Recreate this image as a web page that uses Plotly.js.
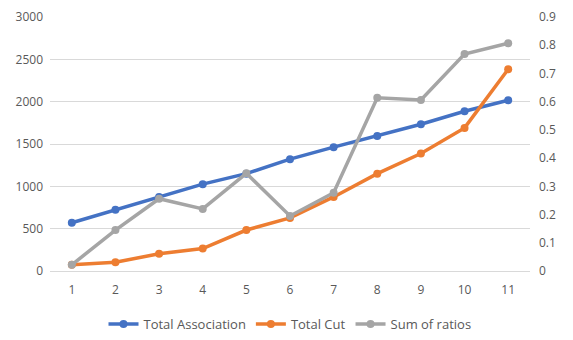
<!DOCTYPE html>
<html>
<head>
<meta charset="utf-8">
<script src="https://cdn.plot.ly/plotly-3.0.1.min.js"></script>
<style>
  html, body { margin: 0; padding: 0; background: #fff; }
  #chart { width: 573px; height: 340px; }
</style>
</head>
<body>
<div id="chart"></div>
<script>
const categories = [1, 2, 3, 4, 5, 6, 7, 8, 9, 10, 11];
const totalAssociation = [570, 723, 875, 1026, 1150, 1321, 1463, 1595, 1734, 1887, 2017];
const totalCut = [74, 103, 204, 265, 484, 627, 875, 1150, 1388, 1690, 2383];
const sumOfRatios = [0.022, 0.145, 0.256, 0.220, 0.346, 0.195, 0.277, 0.614, 0.606, 0.769, 0.807];

const leftTicks = [0, 500, 1000, 1500, 2000, 2500, 3000];
const rightTicks = [0, 0.1, 0.2, 0.3, 0.4, 0.5, 0.6, 0.7, 0.8, 0.9];

const font = { family: 'Open Sans, Noto Sans, sans-serif', size: 12, color: '#595959' };

function series(name, y, color, axis) {
  return {
    type: 'scatter', mode: 'lines+markers', name,
    x: categories, y, yaxis: axis,
    line: { color, width: 3.5 },
    marker: { color, size: 8 }
  };
}

const traces = [
  series('Total Association', totalAssociation, '#4472C4', 'y'),
  series('Total Cut', totalCut, '#ED7D31', 'y'),
  series('Sum of ratios', sumOfRatios, '#A5A5A5', 'y2')
];

const layout = {
  width: 573, height: 340,
  margin: { l: 50, r: 43, t: 17, b: 69, autoexpand: false },
  paper_bgcolor: '#fff', plot_bgcolor: '#fff',
  font,
  showlegend: true,
  legend: {
    orientation: 'h', x: 0.5, xanchor: 'center', y: -0.15, yanchor: 'top',
    font: { ...font, size: 13 }, itemwidth: 30
  },
  xaxis: {
    range: [0.5, 11.5], tickvals: categories, ticktext: categories.map(String),
    showgrid: false, zeroline: false, showline: true, linecolor: '#D9D9D9', linewidth: 1,
    ticks: '', tickfont: font, fixedrange: true, ticklabelstandoff: 8
  },
  yaxis: {
    range: [0, 3000], tickvals: leftTicks, ticktext: leftTicks.map(String),
    gridcolor: '#D9D9D9', gridwidth: 1, zeroline: false, showline: false,
    ticks: '', tickfont: font, ticklabelstandoff: 6
  },
  yaxis2: {
    overlaying: 'y', side: 'right', range: [0, 0.9],
    tickvals: rightTicks, ticktext: rightTicks.map(v => String(+v.toFixed(1))),
    showgrid: false, zeroline: false, showline: false,
    ticks: '', tickfont: font, ticklabelstandoff: 8
  }
};

Plotly.newPlot('chart', traces, layout, { displayModeBar: false, staticPlot: true });
</script>
</body>
</html>
